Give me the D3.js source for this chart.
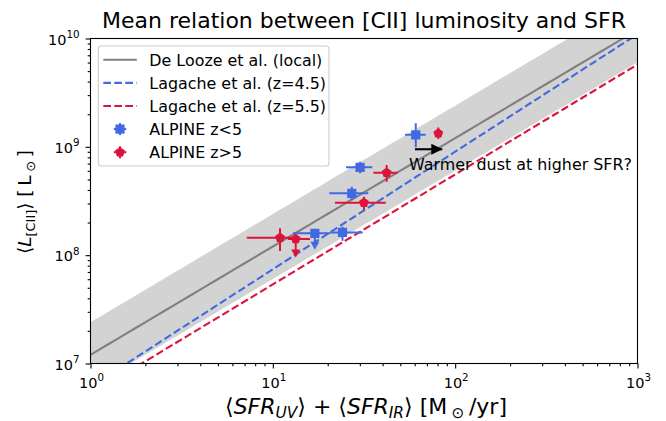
<!DOCTYPE html>
<html>
<head>
<meta charset="utf-8">
<script src="https://cdn.jsdelivr.net/npm/d3@7"></script>
<style>
  body { margin: 0; background: #fff; }
  svg { display: block; font-family: "DejaVu Sans", sans-serif; }
</style>
</head>
<body>
<script>
var W = 666, H = 421;
var margin = {top: 38.5, right: 28.5, bottom: 57.5, left: 90.5};
var width = W - margin.left - margin.right,
    height = H - margin.top - margin.bottom;

// axis ticks
var xMajor = [1, 10, 100, 1000];
var yMajor = [1e7, 1e8, 1e9, 1e10];

// relations: log L = a + b * log SFR
var deLooze = {a: 7.08, b: 1.0, scatter: 0.3};
var lagache45 = {a: 6.785, b: 1.085};
var lagache55 = {a: 6.715, b: 1.015};

// ALPINE z<5 (blue squares)
var lowSFR   = [17.0, 24.1, 27.1, 30.1, 60.8];
var lowSFRlo = [12.9, 20.6, 20.4, 25.2, 53.1];
var lowSFRhi = [20.6, 31.1, 33.4, 35.1, 68.9];
var lowL     = [1.59e8, 1.62e8, 3.72e8, 6.47e8, 1.29e9];
var lowLlo   = [1.12e8, 1.36e8, 3.23e8, 5.7e8, 9.9e8];
var lowLhi   = [1.7e8, 1.83e8, 4.29e8, 7.3e8, 1.65e9];
var lowUplim = [true, false, false, false, false];

// ALPINE z>5 (red pentagons)
var highSFR   = [10.95, 13.35, 31.6, 42.1, 80.8];
var highSFRlo = [7.2, 12.1, 21.9, 35.6, 78.6];
var highSFRhi = [14.1, 16.0, 41.6, 48.2, 83.0];
var highL     = [1.45e8, 1.41e8, 3.05e8, 5.77e8, 1.33e9];
var highLlo   = [1.09e8, 9.5e7, 2.61e8, 4.77e8, 1.18e9];
var highLhi   = [1.77e8, 1.5e8, 3.47e8, 6.8e8, 1.51e9];
var highUplim = [false, true, false, false, false];

var blue = "#4169e1", red = "#dc143c";

var svg = d3.select("body").append("svg")
    .attr("width", W)
    .attr("height", H);

var x = d3.scaleLog().domain([1, 1000]).range([0, width]);
var y = d3.scaleLog().domain([1e7, 1e10]).range([height, 0]);

svg.append("defs").append("clipPath").attr("id", "clip")
  .append("rect").attr("width", width).attr("height", height);

var g = svg.append("g")
    .attr("transform", "translate(" + margin.left + "," + margin.top + ")");

var plot = g.append("g").attr("clip-path", "url(#clip)");

// sample the relations on the SFR grid
var sfrGrid = d3.range(0, 3.0001, 0.05).map(function(l) { return Math.pow(10, l); });
function rel(r, s) { return Math.pow(10, r.a + r.b * Math.log10(s)); }

// scatter band
plot.append("path")
    .datum(sfrGrid)
    .attr("fill", "#d3d3d3")
    .attr("d", d3.area()
        .x(function(d) { return x(d); })
        .y0(function(d) { return y(rel(deLooze, d) / Math.pow(10, deLooze.scatter)); })
        .y1(function(d) { return y(rel(deLooze, d) * Math.pow(10, deLooze.scatter)); }));

function relLine(r) {
    return d3.line()
        .x(function(d) { return x(d); })
        .y(function(d) { return y(rel(r, d)); });
}

plot.append("path").datum(sfrGrid)
    .attr("fill", "none").attr("stroke", "#808080").attr("stroke-width", 2.1)
    .attr("d", relLine(deLooze));
plot.append("path").datum(sfrGrid)
    .attr("fill", "none").attr("stroke", blue).attr("stroke-width", 2.1)
    .attr("stroke-dasharray", "7.7,3.3")
    .attr("d", relLine(lagache45));
plot.append("path").datum(sfrGrid)
    .attr("fill", "none").attr("stroke", red).attr("stroke-width", 2.1)
    .attr("stroke-dasharray", "7.7,3.3")
    .attr("d", relLine(lagache55));

// marker shapes
function pentagon(r) {
    var pts = d3.range(5).map(function(i) {
        var a = -Math.PI / 2 + i * 2 * Math.PI / 5;
        return [r * Math.cos(a), r * Math.sin(a)];
    });
    return "M" + pts.join("L") + "Z";
}
function square(s) { return "M" + (-s) + "," + (-s) + "h" + (2 * s) + "v" + (2 * s) + "h" + (-2 * s) + "Z"; }

function drawSeries(sfr, lo, hi, L, Llo, Lhi, uplim, color, shape) {
    var grp = plot.append("g");
    sfr.forEach(function(s, i) {
        var cx = x(s), cy = y(L[i]);
        grp.append("line")
            .attr("x1", x(lo[i])).attr("x2", x(hi[i]))
            .attr("y1", cy).attr("y2", cy)
            .attr("stroke", color).attr("stroke-width", 2);
        var yb = y(Llo[i]);
        grp.append("line")
            .attr("x1", cx).attr("x2", cx)
            .attr("y1", y(Lhi[i])).attr("y2", uplim[i] ? yb - 6 : yb)
            .attr("stroke", color).attr("stroke-width", 2);
        if (uplim[i]) {
            grp.append("path")
                .attr("d", "M" + (cx - 4.5) + "," + (yb - 8) + "L" + (cx + 4.5) + "," + (yb - 8) + "L" + cx + "," + yb + "Z")
                .attr("fill", color);
        }
        grp.append("path")
            .attr("transform", "translate(" + cx + "," + cy + ")")
            .attr("d", shape)
            .attr("fill", color);
    });
}

drawSeries(lowSFR, lowSFRlo, lowSFRhi, lowL, lowLlo, lowLhi, lowUplim, blue, square(4.6));
drawSeries(highSFR, highSFRlo, highSFRhi, highL, highLlo, highLhi, highUplim, red, pentagon(5.2));

// annotation
var arrowFrom = [60.2, 9.5e8], arrowTo = [85, 9.5e8];
svg.append("defs").append("marker")
    .attr("id", "head").attr("viewBox", "0 0 10 10")
    .attr("refX", 10).attr("refY", 5)
    .attr("markerUnits", "userSpaceOnUse")
    .attr("markerWidth", 11).attr("markerHeight", 11)
    .attr("orient", "auto")
  .append("path").attr("d", "M0,0L10,5L0,10Z").attr("fill", "#000");
g.append("line")
    .attr("x1", x(arrowFrom[0])).attr("y1", y(arrowFrom[1]))
    .attr("x2", x(arrowTo[0])).attr("y2", y(arrowTo[1]))
    .attr("stroke", "#000").attr("stroke-width", 2.1)
    .attr("marker-end", "url(#head)");
g.append("text")
    .attr("x", x(55.8)).attr("y", y(6.1e8))
    .attr("font-size", 15.9)
    .text("Warmer dust at higher SFR?");

// axes
function minorTicks(dom) {
    var out = [];
    for (var e = Math.log10(dom[0]); e < Math.log10(dom[1]); e++) {
        for (var k = 2; k < 10; k++) out.push(k * Math.pow(10, e));
    }
    return out;
}

var xAxis = g.append("g").attr("transform", "translate(0," + height + ")");
xAxis.call(d3.axisBottom(x).tickValues(xMajor).tickSize(4.9).tickFormat(""));
xAxis.append("g").call(d3.axisBottom(x).tickValues(minorTicks([1, 1000])).tickSize(2.8).tickFormat(""));
var yAxis = g.append("g");
yAxis.call(d3.axisLeft(y).tickValues(yMajor).tickSize(4.9).tickFormat(""));
yAxis.append("g").call(d3.axisLeft(y).tickValues(minorTicks([1e7, 1e10])).tickSize(2.8).tickFormat(""));
g.selectAll(".domain").remove();
g.selectAll(".tick line").attr("stroke", "#000").attr("stroke-width", 1.1);

// frame
g.append("rect").attr("width", width).attr("height", height)
    .attr("fill", "none").attr("stroke", "#000").attr("stroke-width", 1.1);

function powLabel(sel, v) {
    sel.append("tspan").text("10");
    sel.append("tspan").attr("dy", -6.5).attr("font-size", 10.3).text(Math.round(Math.log10(v)));
}

xMajor.forEach(function(v) {
    var t = g.append("text")
        .attr("x", x(v) + 1).attr("y", height + 24)
        .attr("text-anchor", "middle").attr("font-size", 14.5);
    powLabel(t, v);
});
yMajor.forEach(function(v) {
    var t = g.append("text")
        .attr("x", -11).attr("y", y(v) + 6)
        .attr("text-anchor", "end").attr("font-size", 14.5);
    powLabel(t, v);
});

// rich text helper: parts with italic / sub flags
function rich(sel, parts, size) {
    var shift = 0;
    parts.forEach(function(p) {
        var want = p.sub ? size * 0.2 : 0;
        var ts = sel.append("tspan")
            .attr("dy", want - shift)
            .attr("font-size", p.sub ? size * 0.7 : size)
            .text(p.t);
        if (p.i) ts.attr("font-style", "italic");
        shift = want;
    });
}

var xl = g.append("text")
    .attr("x", width / 2 + 2).attr("y", height + 50.5)
    .attr("text-anchor", "middle");
rich(xl, [
    {t: "\u27e8"}, {t: "SFR", i: true}, {t: "UV", i: true, sub: true},
    {t: "\u27e9 + \u27e8"}, {t: "SFR", i: true}, {t: "IR", i: true, sub: true},
    {t: "\u27e9 [M\u2009"}, {t: "\u2299", sub: true}, {t: "\u2009/yr]"}
], 22);

var yl = g.append("text")
    .attr("transform", "translate(-59.5," + (height / 2 + 1) + ") rotate(-90)")
    .attr("text-anchor", "middle");
rich(yl, [
    {t: "\u27e8"}, {t: "L", i: true}, {t: "[CII]", sub: true},
    {t: "\u27e9 [\u2009L\u2009"}, {t: "\u2299", sub: true}, {t: "\u2009]"}
], 18.5);

svg.append("text")
    .attr("x", margin.left + width / 2).attr("y", 28)
    .attr("text-anchor", "middle").attr("font-size", 22)
    .text("Mean relation between [CII] luminosity and SFR");

// legend
var leg = g.append("g").attr("transform", "translate(7.8,7.5)");
leg.append("rect")
    .attr("width", 230.7).attr("height", 120).attr("rx", 3)
    .attr("fill", "#fff").attr("fill-opacity", 0.8)
    .attr("stroke", "#cccccc").attr("stroke-width", 1.1);

var legNames = ["De Looze et al. (local)", "Lagache et al. (z=4.5)", "Lagache et al. (z=5.5)", "ALPINE z<5", "ALPINE z>5"];
var legColors = ["#808080", blue, red, blue, red];
var legKinds = ["solid", "dash", "dash", "square", "pent"];

legNames.forEach(function(name, i) {
    var ly = 13.8 + i * 23.1;
    var row = leg.append("g").attr("transform", "translate(0," + ly + ")");
    if (legKinds[i] === "solid" || legKinds[i] === "dash") {
        var ln = row.append("line").attr("x1", 5).attr("x2", 38.5)
            .attr("stroke", legColors[i]).attr("stroke-width", 2.1);
        if (legKinds[i] === "dash") ln.attr("stroke-dasharray", "7.7,3.3");
    } else {
        row.append("line").attr("x1", 15.5).attr("x2", 28).attr("stroke", legColors[i]).attr("stroke-width", 2);
        row.append("line").attr("x1", 21.7).attr("x2", 21.7).attr("y1", -6).attr("y2", 6).attr("stroke", legColors[i]).attr("stroke-width", 2);
        row.append("path").attr("transform", "translate(21.7,0)")
            .attr("d", legKinds[i] === "square" ? square(4.6) : pentagon(5.2))
            .attr("fill", legColors[i]);
    }
    row.append("text").attr("x", 51).attr("y", 5.7)
        .attr("font-size", 15.9).text(name);
});
</script>
</body>
</html>
